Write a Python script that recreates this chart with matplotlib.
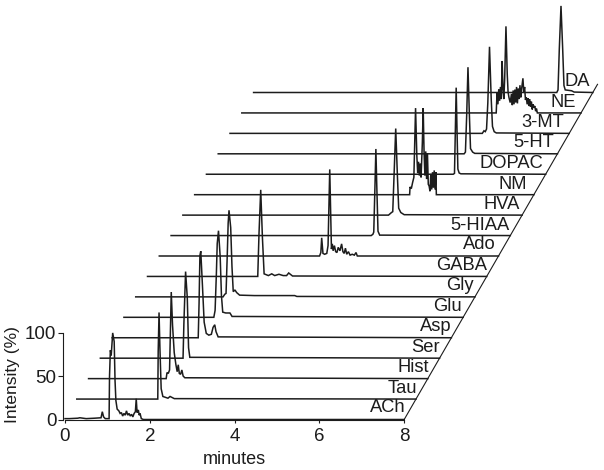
import numpy as np
from matplotlib import pyplot as plt

plt.rcParams['font.family'] = ['Liberation Sans', 'DejaVu Sans']

names = ["ACh", "Tau", "Hist", "Ser", "Asp", "Glu", "Gly", "GABA", "Ado",
         "5-HIAA", "HVA", "NM", "DOPAC", "5-HT", "3-MT", "NE", "DA"]

# each trace is (minutes, % intensity)
ach_t = [0, 0.1, 0.3, 0.35, 0.5, 0.7, 0.85, 0.88, 0.91, 0.95, 1.04, 1.05, 1.07, 1.09, 1.125, 1.16, 1.18, 1.2, 1.23,
         1.27, 1.3, 1.33, 1.36, 1.39, 1.42, 1.45, 1.48, 1.51, 1.54, 1.57, 1.6, 1.63, 1.66, 1.68, 1.7, 1.73, 1.75, 1.77, 1.8, 1.85, 8]
ach_i = [1, 1, 1.5, 2, 1, 1.5, 2, 9, 3, 1, 1, 50, 80, 74, 100, 90, 45, 22, 12,
         10, 7, 8, 4, 7, 5, 10, 5, 7, 4, 6, 3, 7, 9, 24, 8, 11, 5, 7, 1, 0, 0]
tau_t = [0, 1.91, 1.92, 1.94, 1.96, 1.99, 2.03, 2.15, 2.2, 2.3, 8]
tau_i = [0, 0, 55, 100, 60, 12, 3, 1, 3, 0.5, 0]
hist_t = [0, 1.83, 1.85, 1.88, 1.91, 1.95, 1.98, 2.02, 2.06, 2.09, 2.115, 2.14, 2.17, 2.2, 2.23, 2.27, 8]
hist_i = [0, 0, 7, 6, 10, 100, 62, 30, 16, 8, 16, 6, 5, 10, 3, 1, 0]
ser_t = [0, 1.95, 1.97, 2.01, 2.05, 2.08, 2.11, 8]
ser_i = [0, 0, 40, 100, 70, 12, 1, 0]
asp_t = [0, 2.03, 2.05, 2.07, 2.09, 2.13, 2.17, 2.22, 2.28, 2.34, 2.38, 2.42, 2.45, 2.5, 8]
asp_i = [0, 0, 40, 95, 100, 60, 18, 5, 3, 4, 12, 15, 7, 1, 0]
glu_t = [0, 2.12, 2.15, 2.18, 2.2, 2.23, 2.27, 2.3, 2.33, 2.4, 2.5, 2.55, 8]
glu_i = [0, 0, 8, 50, 85, 100, 70, 25, 6, 5, 5, 1, 0]
gly_t = [0, 2.06, 2.1, 2.13, 2.16, 2.18, 2.2, 2.24, 2.27, 2.3, 2.34, 2.38, 2.45, 2.8, 3.3, 3.75, 3.8, 8]
gly_i = [0, 0, 3, 4, 50, 85, 100, 80, 35, 6, 8, 5, 2, 1.5, 1.5, 1.5, 0.5, 0]
gaba_t = [0, 2.6, 2.63, 2.67, 2.71, 2.75, 2.85, 2.93, 3.0, 3.1, 3.2, 3.28, 3.33, 3.42, 8]
gaba_i = [0, 0, 50, 100, 45, 3, 1, 3, 1, 2.5, 1, 1, 4, 0.5, 0]
ado_t = [0, 3.78, 3.81, 3.83, 3.86, 3.9, 3.95, 3.98, 4.02, 4.06, 4.08, 4.1, 4.13, 4.16, 4.19, 4.22, 4.26, 4.3, 4.33,
         4.36, 4.39, 4.42, 4.46, 4.5, 4.55, 4.6, 4.64, 4.67, 8]
ado_i = [0, 0, 4, 21, 3, 2, 3, 12, 100, 8, 14, 6, 12, 5, 4, 10, 6, 14, 5,
         3, 9, 2, 5, 1, 2, 1, 4, 0, 0]
hiaa_t = [0, 4.72, 4.76, 4.78, 4.81, 4.83, 4.85, 4.88, 4.92, 8]
hiaa_i = [0, 0, 1.5, 4, 60, 100, 60, 5, 0.5, 0]
hva_t = [0, 4.85, 4.92, 4.95, 4.98, 5.02, 5.06, 5.09, 5.14, 5.22, 8]
hva_i = [0, 0, 3, 4, 45, 100, 45, 8, 3, 0.5, 0]
nm_t = [0, 5.07, 5.08, 5.11, 5.14, 5.17, 5.19, 5.21, 5.24, 5.26, 5.28, 5.3, 5.32, 5.34, 5.37, 5.39, 5.41, 5.43,
        5.45, 5.47, 5.49, 5.51, 5.53, 5.55, 5.57, 5.59, 5.61, 5.63, 5.65, 5.67, 5.69, 5.7, 8]
nm_i = [0, 0, 9, 7, 14, 20, 60, 100, 45, 25, 38, 22, 36, 20, 60, 100, 50, 22,
        50, 18, 48, 12, 10, 4, 24, 6, 26, 8, 28, 6, 26, 0, 0]
dopac_t = [0, 5.82, 5.85, 5.87, 5.89, 5.91, 5.93, 5.96, 6.0, 8]
dopac_i = [0, 0, 1, 50, 100, 50, 6, 1.5, 0.5, 0]
ht_t = [0, 5.8, 5.83, 5.86, 5.89, 5.92, 5.95, 6.0, 6.05, 8]
ht_i = [0, 0, 2, 45, 100, 50, 6, 2, 0.5, 0]
mt_t = [0, 5.95, 5.99, 6.02, 6.05, 6.08, 6.12, 6.16, 6.19, 6.23, 6.28, 8]
mt_i = [0, 0, 3, 2, 5, 35, 100, 40, 8, 2, 0.5, 0]
ne_t = [0, 6.0, 6.02, 6.04, 6.06, 6.08, 6.1, 6.12, 6.14, 6.16, 6.18, 6.2, 6.23, 6.26, 6.28, 6.3, 6.33, 6.36, 6.38,
        6.4, 6.42, 6.44, 6.46, 6.48, 6.5, 6.52, 6.54, 6.56, 6.58, 6.6, 6.63, 6.65, 6.67, 6.69, 6.71, 6.73, 6.75,
        6.77, 6.79, 6.81, 6.83, 6.85, 6.87, 6.89, 6.91, 6.93, 6.95, 6.97, 8]
ne_i = [0, 0, 24, 10, 27, 14, 30, 16, 60, 28, 16, 40, 100, 45, 24, 18, 12, 22, 9,
        26, 10, 27, 12, 30, 11, 28, 16, 32, 18, 28, 40, 24, 30, 15, 18, 10, 17,
        8, 16, 7, 13, 4, 10, 6, 8, 2, 5, 0, 0]
da_t = [0, 7.15, 7.18, 7.21, 7.25, 7.29, 7.32, 7.35, 7.5, 7.56, 8]
da_i = [0, 0, 3, 50, 100, 50, 8, 3, 2, 0.5, 0]

ts = [ach_t, tau_t, hist_t, ser_t, asp_t, glu_t, gly_t, gaba_t, ado_t,
      hiaa_t, hva_t, nm_t, dopac_t, ht_t, mt_t, ne_t, da_t]
ys = [ach_i, tau_i, hist_i, ser_i, asp_i, glu_i, gly_i, gaba_i, ado_i,
      hiaa_i, hva_i, nm_i, dopac_i, ht_i, mt_i, ne_i, da_i]

# waterfall layout
dx = 0.278  # minutes per trace
dy = 23.6   # % per trace
px_x = 42.4   # pixels per minute
px_y = 0.866  # pixels per %
label_nudge = [1, 1, 1.4, 0, 0.7, -1, -1, 0, -3, -1, -2, -7, -2.6, -3, -5, -5, -2.7]
label_up = [11.5, 11, 11, 11, 11.5, 10.5, 11, 10.5, 11, 10.5, 11, 10.5, 11, 11, 10.5, 10.5, 11]
ink = "#1c1c1c"

fig = plt.figure(figsize=(6.04, 4.70), dpi=100)
ax = fig.add_axes([65 / 604, 50.5 / 470, 539 / 604, 419.5 / 470])
ax.set_xlim(0, 539 / px_x)
ax.set_ylim(0, 419.5 / px_y)
ax.patch.set_alpha(0)

for i in range(len(names)):
    x = np.array(ts[i]) + i * dx
    y = np.array(ys[i]) + i * dy
    ax.plot(x, y, color=ink, lw=1.1, solid_joinstyle="miter", clip_on=False)
    ax.text(8 + i * dx + label_nudge[i] / px_x, i * dy + label_up[i] / px_y, names[i],
            ha="right", va="center", fontsize=13.2, color=ink)

# slanted edge on the right side
ax.plot([8, 8 + 16.4 * dx], [0, 16.4 * dy], color=ink, lw=0.8)

for side in ["top", "right"]:
    ax.spines[side].set_visible(False)
ax.spines["left"].set_bounds(0, 100)
ax.spines["left"].set_position(("outward", 1.2))
ax.spines["bottom"].set_bounds(0, 8)
ax.spines["left"].set_color(ink)
ax.spines["bottom"].set_color(ink)

ax.set_xticks([0, 2, 4, 6, 8])
ax.set_yticks([0, 50, 100])
ax.tick_params(axis="both", labelsize=13.5, colors=ink, width=0.8)
ax.tick_params(axis="x", length=2.5, pad=3.5)
ax.tick_params(axis="y", length=3.5, pad=1.5)

fig.text(234 / 604, 1 - 459 / 470, "minutes", ha="center", va="center", fontsize=13, color=ink)
fig.text(13 / 604, 1 - 375 / 470, "Intensity (%)", ha="center", va="center", rotation=90, fontsize=12.5, color=ink)

plt.savefig("out.png", dpi=100)
